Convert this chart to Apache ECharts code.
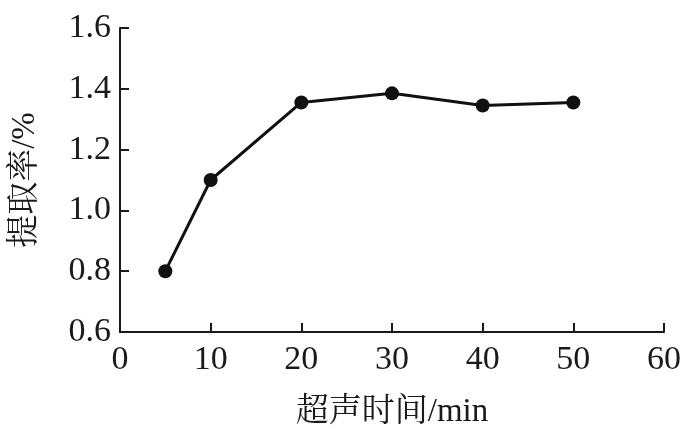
<!DOCTYPE html>
<html>
<head>
<meta charset="utf-8">
<script src="https://cdn.jsdelivr.net/npm/echarts@6/dist/echarts.min.js"></script>
<style>html,body{margin:0;padding:0;background:#fff;}#c{width:699px;height:439px;}</style>
</head>
<body>
<div id="c"></div>
<script>
var times = [5, 10, 20, 30, 40, 50];
var rates = [0.80, 1.10, 1.355, 1.385, 1.345, 1.355];
var xTicks = [0, 10, 20, 30, 40, 50, 60];
var yTicks = [0.6, 0.8, 1.0, 1.2, 1.4, 1.6];

var chart = echarts.init(document.getElementById('c'));
var serif = '"Liberation Serif", "Times New Roman", "Noto Serif CJK SC", "Noto Sans CJK SC", serif';
var axisColor = '#1a1a1a';
chart.setOption({
  animation: false,
  backgroundColor: '#fff',
  grid: {left: 120, right: 35, top: 28, bottom: 107, containLabel: false},
  xAxis: {
    type: 'value', min: 0, max: 60, interval: 10,
    name: '超声时间/min', nameLocation: 'middle', nameGap: 64,
    nameTextStyle: {fontFamily: serif, fontSize: 33, color: '#1a1a1a', verticalAlign: 'top'},
    axisLine: {show: true, lineStyle: {color: axisColor, width: 2}},
    axisTick: {show: true, inside: true, length: 9, lineStyle: {color: axisColor, width: 2}},
    axisLabel: {fontFamily: serif, fontSize: 34, color: '#1a1a1a', margin: 11,
      formatter: function (v) { return xTicks.indexOf(v) >= 0 ? String(v) : ''; }},
    splitLine: {show: false}
  },
  yAxis: {
    type: 'value', min: 0.6, max: 1.6, interval: 0.2,
    name: '提取率/%', nameLocation: 'middle', nameGap: 78, nameRotate: 90,
    nameTextStyle: {fontFamily: serif, fontSize: 33, color: '#1a1a1a'},
    axisLine: {show: true, lineStyle: {color: axisColor, width: 2}},
    axisTick: {show: true, inside: true, length: 9, lineStyle: {color: axisColor, width: 2}},
    axisLabel: {fontFamily: serif, fontSize: 34, color: '#1a1a1a', margin: 9,
      formatter: function (v) {
        var r = Math.round(v * 10) / 10;
        return yTicks.indexOf(r) >= 0 ? r.toFixed(1) : '';
      }},
    splitLine: {show: false}
  },
  series: [{
    type: 'line',
    data: times.map(function (t, i) { return [t, rates[i]]; }),
    symbol: 'circle', symbolSize: 14,
    lineStyle: {color: '#111', width: 3},
    itemStyle: {color: '#111'}
  }]
});
</script>
</body>
</html>
